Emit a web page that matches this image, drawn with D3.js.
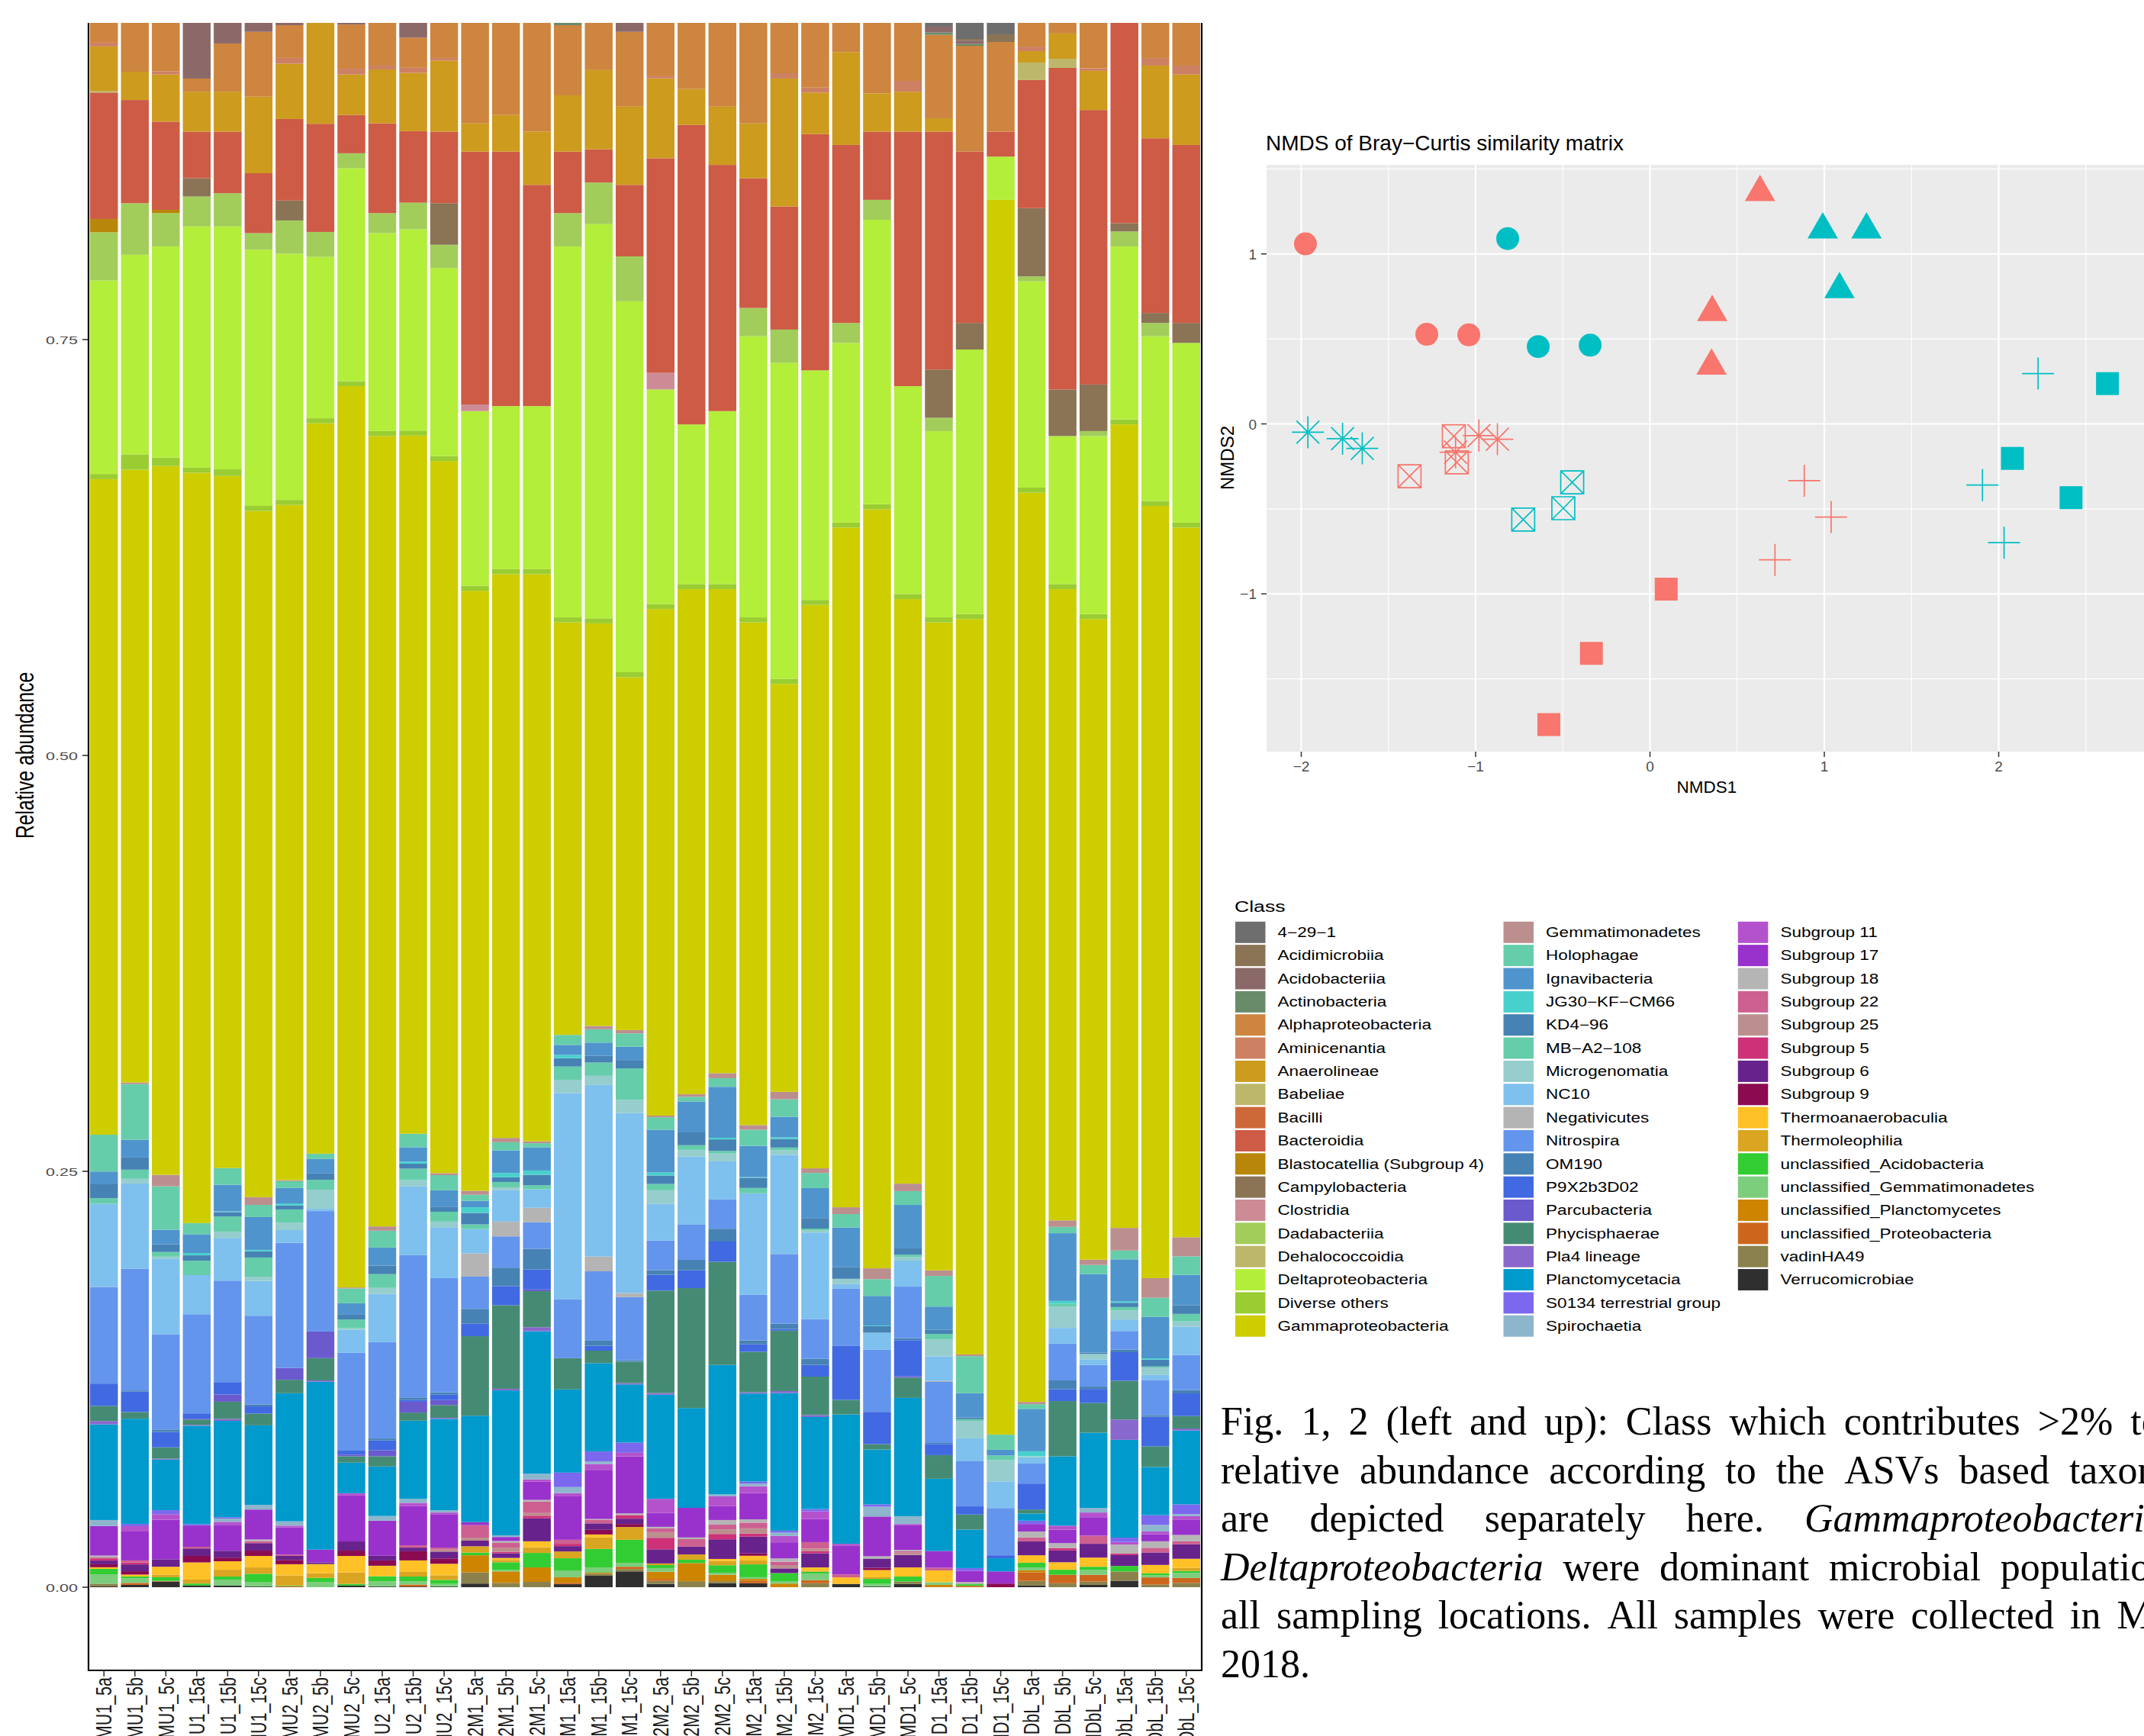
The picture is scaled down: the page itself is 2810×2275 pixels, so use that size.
<!DOCTYPE html>
<html>
<head>
<meta charset="utf-8">
<title>Bacterial classes and NMDS ordination</title>
<script src="https://cdn.jsdelivr.net/npm/d3@7"></script>
<style>
  html, body { margin: 0; padding: 0; background: #ffffff; }
  svg { display: block; }
</style>
</head>
<body>
<svg id="fig" width="2810" height="2275" xmlns="http://www.w3.org/2000/svg"></svg>
<script>
// ---------- samples on the x axis of the stacked bars ----------
const samples = [
  "MU1_5a","MU1_5b","MU1_5c","MU1_15a","MU1_15b","MU1_15c",
  "MU2_5a","MU2_5b","MU2_5c","MU2_15a","MU2_15b","MU2_15c",
  "S2M1_5a","S2M1_5b","S2M1_5c","S2M1_15a","S2M1_15b","S2M1_15c",
  "S2M2_5a","S2M2_5b","S2M2_5c","S2M2_15a","S2M2_15b","S2M2_15c",
  "MD1_5a","MD1_5b","MD1_5c","MD1_15a","MD1_15b","MD1_15c",
  "MDbL_5a","MDbL_5b","MDbL_5c","MDbL_15a","MDbL_15b","MDbL_15c"
];

// ---------- classes in legend order (first one sits on top of each bar) ----------
const classNames = [
  "4\u221229\u22121","Acidimicrobiia","Acidobacteriia","Actinobacteria","Alphaproteobacteria",
  "Aminicenantia","Anaerolineae","Babeliae","Bacilli","Bacteroidia",
  "Blastocatellia (Subgroup 4)","Campylobacteria","Clostridia","Dadabacteriia","Dehalococcoidia",
  "Deltaproteobacteria","Diverse others","Gammaproteobacteria",
  "Gemmatimonadetes","Holophagae","Ignavibacteria","JG30\u2212KF\u2212CM66","KD4\u221296",
  "MB\u2212A2\u2212108","Microgenomatia","NC10","Negativicutes","Nitrospira","OM190",
  "P9X2b3D02","Parcubacteria","Phycisphaerae","Pla4 lineage","Planctomycetacia",
  "S0134 terrestrial group","Spirochaetia",
  "Subgroup 11","Subgroup 17","Subgroup 18","Subgroup 22","Subgroup 25","Subgroup 5",
  "Subgroup 6","Subgroup 9","Thermoanaerobaculia","Thermoleophilia",
  "unclassified_Acidobacteria","unclassified_Gemmatimonadetes","unclassified_Planctomycetes",
  "unclassified_Proteobacteria","vadinHA49","Verrucomicrobiae"
];
const classColors = [
  "#6e6e6e","#8b7355","#8b6969","#698b69","#cd853f",
  "#cd8162","#cd9b1d","#bdb76b","#cd6839","#cd5b45",
  "#b8860b","#8b7355","#cd8c95","#a2cd5a","#bdb76b",
  "#b3ee3a","#9acd32","#cdcd00",
  "#bc8f8f","#66cdaa","#4f94cd","#48d1cc","#4682b4",
  "#66cdaa","#96cdcd","#7ec0ee","#b4b4b4","#6495ed","#4682b4",
  "#4169e1","#6a5acd","#458b74","#8968cd","#009acd",
  "#7b68ee","#8db6cd",
  "#b452cd","#9932cc","#b5b5b5","#cd6090","#bc8f8f","#cd3278",
  "#68228b","#8b0a50","#ffc125","#daa520",
  "#32cd32","#7ccd7c","#cd8500",
  "#cd661d","#8b814c","#2f2f2f"
];

// ---------- relative abundance (percent), one value per sample ----------
const c4_29_1            = [0,0,0,0,0,0, 0,0,0,0,0,0, 0,0,0,0,0,0, 0,0,0,0,0,0, 0,0,0,6.19,6.93,6.65, 0,0,0,0,0,0];
const acidimicrobiia     = [0,0,0,0,0,0, 0,0,0,0,0,0, 0,0,0,0,0,0, 0,0,0,0,0,0, 0,0,0,0,0.1,0.46, 0,0,0,0,0,0];
const acidobacteriia     = [0,0,0,9.31,7.2,6.5, 6.06,0,6.06,0,6.88,0, 0,0,0,0,0,6.5, 0,0,0,0,0,0, 0,0,0,0.35,0.19,0, 0,0,0,0,0,0];
const actinobacteria     = [0,0,0,0,0,0, 0,0,0,0,0,0, 0,0,0,6.1,0,0, 0,0,0,0,0,0, 0,0,0,0.14,0.12,0, 0,0,0,0,0,0];
const alphaproteobacteria= [7.2,8.9,8.87,0.79,2.9,3.9, 1.97,0,2.66,8.53,1.81,8.07, 12.0,11.5,12.5,4.22,8.94,4.5, 9.17,9.54,11.0,12.0,8.99,9.7, 7.72,10.2,9.45,5.02,6.36,5.39, 7.39,6.6,8.69,0,8.07,8.53];
const aminicenantia      = [0.23,0,0.2,0,0,0, 0.35,0,0.35,0.23,0.31,0.16, 0,0,0,0,0,0, 0.13,0,0,0,0.32,0.3, 0,0,0.65,0,0,0, 0.27,0,0.16,0,0.46,0.54];
const anaerolineae       = [2.67,1.7,2.83,2.4,2.4,4.6, 3.32,12.0,2.43,3.24,3.5,4.27, 1.7,2.2,3.2,3.38,4.76,4.7, 4.8,2.16,3.5,3.3,7.69,2.5, 5.58,2.3,2.4,0.8,0,0, 0.69,1.52,2.35,0,4.37,4.23];
const babeliae           = [0.1,0,0,0,0,0, 0,0,0,0,0,0, 0,0,0,0,0,0, 0,0,0,0,0,0, 0,0,0,0,0,0, 1.05,0.55,0,0,0,0];
const bacilli            = [0,0,0,0,0,0, 0,0,0,0,0,0, 0,0,0,0,0,0, 0,0,0,0,0,0, 0,0,0,0,0,0, 0,0,0,0,0,0];
const bacteroidia        = [7.6,6.2,5.3,2.8,3.7,3.6, 4.9,6.5,2.3,5.4,4.3,4.3, 15.2,15.3,13.3,3.7,2.0,4.3, 12.9,18.0,14.8,7.8,7.4,14.2, 10.7,4.1,15.3,14.3,10.3,1.5, 7.7,19.33,16.5,18.0,10.5,10.7];
const blastocatellia     = [0.8,0,0.2,0,0,0, 0,0,0,0,0,0, 0,0,0,0,0,0, 0,0,0,0,0,0, 0,0,0,0,0,0, 0,0,0,0,0,0];
const campylobacteria    = [0,0,0,1.1,0,0, 1.2,0,0,0,0,2.5, 0,0,0,0,0,0, 0,0,0,0,0,0, 0,0,0,2.9,1.6,0, 4.1,2.8,2.8,0.5,0.6,1.2];
const clostridia         = [0,0,0,0,0,0, 0,0,0,0,0,0, 0.4,0,0,0,0,0, 1.0,0,0,0,0,0, 0,0,0,0,0,0, 0,0,0,0,0,0];
const dadabacteriia      = [2.9,3.1,2.0,1.8,2.0,1.0, 2.0,1.5,0.9,1.2,1.6,1.4, 0,0,0,2.0,2.5,2.7, 0,0,0,1.7,2.0,0, 1.2,1.2,0,0.8,0,0, 0.3,0,0.3,0.9,0.8,0];
const dehalococcoidia    = [0,0,0,0,0,0, 0,0,0,0,0,0, 0,0,0,0,0,0, 0,0,0,0,0,0, 0,0,0,0,0,0, 0,0,0,0,0,0];
const deltaproteobacteria= [11.63,12.0,12.7,14.5,14.6,15.4, 14.8,9.7,12.8,11.9,12.1,11.3, 10.5,9.8,9.8,22.3,23.7,22.3, 12.9,9.6,10.4,16.9,19.0,13.8, 10.8,17.1,12.5,11.2,15.9,2.6, 12.4,8.9,10.7,10.4,9.9,10.8];
const diverseOthers      = [0.31,0.92,0.5,0.3,0.4,0.3, 0.3,0.3,0.3,0.3,0.3,0.3, 0.3,0.3,0.3,0.3,0.3,0.3, 0.3,0.3,0.3,0.3,0.3,0.3, 0.3,0.3,0.3,0.3,0.3,0, 0.3,0.3,0.3,0.3,0.3,0.3];
const gammaproteobacteria= [39.41,36.84,42.61,45.11,41.6,41.25, 40.59,43.91,54.18,47.51,41.97,42.81, 36.07,33.89,34.09,24.8,24.2,21.21, 30.45,30.36,29.1,30.22,24.52,33.87, 40.86,45.63,35.14,38.95,44.21,74.23, 54.66,37.95,38.51,48.3,46.42,42.66];
const gemmatimonadetes   = [0,0.1,0.69,0,0,0.47, 0.06,0,0.06,0.26,0,0.12, 0.24,0.26,0.12,0,0.2,0.2, 0.1,0.16,0.3,0.28,0.45,0.28, 0.41,0.65,0.45,0.34,0.1,0, 0.14,0.39,0.32,1.36,1.18,1.15];
const holophagae         = [2.21,3.34,2.61,0.67,1.01,0.73, 0.41,0.32,0.89,1.01,0.81,0.91, 0.36,0.49,0.24,0.6,0.8,0.8, 0.75,0.28,0.52,0.97,1.05,0.91, 0.81,1.01,0.83,1.84,2.23,0.91, 0.28,0.38,0.55,0.53,1.15,1.11];
const ignavibacteria     = [0.73,1.07,0.87,1.13,1.6,1.97, 0.93,0.87,0.69,1.09,0.87,1.01, 0.39,1.36,1.4,0.6,0.8,0.8, 2.57,1.86,3.06,1.88,1.24,1.8, 2.39,1.78,2.61,1.4,1.46,0.34, 2.55,4.07,4.72,2.53,2.49,1.84];
const jg30               = [0,0,0,0.14,0.04,0.08, 0.12,0,0,0,0.12,0, 0.34,0.26,0.26,0.2,0,0, 0.18,0,0.1,0.04,0.1,0, 0,0.04,0,0,0,0, 0.3,0.16,0,0.08,0.08,0];
const kd4_96             = [0.87,0.73,0.47,0.32,0.26,0.38, 0.24,0.38,0.28,0.51,0.3,0.28, 0.69,0.28,0.63,0.5,0.4,0.5, 0.51,0.77,0.69,0.61,0.51,0.63, 0.69,0.39,0.38,0.24,0.1,0, 0,0,0.08,0.26,0.41,0.51];
const mbA2_108           = [0.34,0.55,0.28,0.87,0.91,1.15, 0.79,0.59,0.53,0.83,0.69,0.59, 0.28,0.32,0.24,0.8,0.8,1.9, 0.38,0.28,0.16,0.32,0.16,0.12, 0,0,0.14,0.34,0.1,0.28, 0,0.18,0,0.2,0.06,0.45];
const microgenomatia     = [0,0.28,0.14,0,0.38,0.26, 0.45,1.15,0.1,0.36,0.38,0.34, 0,0.16,0,0.8,0.55,0.79, 0.81,0.41,0.47,0,0.28,0.12, 0.32,0,0.22,1.01,1.05,1.28, 0.06,1.28,0.32,0.55,0.45,0.32];
const nc10               = [5.0,5.13,4.54,2.35,2.57,2.09, 0.77,0.14,1.38,2.9,4.13,3.06, 1.46,1.9,1.11,12.38,10.31,10.82, 2.21,4.09,2.29,6.1,5.96,5.2, 0.28,1.01,1.56,1.48,1.38,1.6, 0.38,0.95,0.34,0.69,0.3,1.7];
const negativicutes      = [0,0,0,0,0,0, 0,0,0,0,0,0, 1.4,0.89,0.87,0,0.89,0.24, 0,0,0,0,0,0, 0,0,0,0.06,0,0, 0,0,0,0,0,0];
const nitrospira         = [5.81,7.31,5.71,5.96,6.1,5.33, 7.52,7.24,5.88,5.79,8.55,6.87, 1.94,1.88,1.6,3.55,4.17,3.79, 1.78,2.11,1.76,2.74,4.19,2.39, 3.44,3.75,3.1,3.67,2.71,2.84, 1.2,2.21,1.3,1.11,2.11,2.11];
const om190              = [0,0.06,0.14,0,0,0.12, 0,0,0,0.12,0.14,0.14, 0.89,1.11,1.24,0,0.3,0.1, 0.28,0.63,0.77,0.24,0.32,0.36, 0,0,0.12,0.06,0,0, 0,0.53,0.14,0.16,0.1,0.2];
const p9x2b3d02          = [1.34,1.24,0.93,0.32,0.75,0.43, 0,0,0.24,0.59,0.12,0.32, 0.75,1.15,1.2,0,0.3,0, 0.95,1.07,1.22,0.45,0.1,0.71, 3.24,1.94,2.17,0.67,0.49,0.18, 1.56,0.71,0.85,1.72,1.78,1.36];
const parcubacteria      = [0,0,0,0.05,0.43,0, 0.71,1.6,0.1,0.36,0.65,0.3, 0,0,0.1,0,0,0, 0,0,0,0,0,0, 0,0,0.08,0,0,0, 0,0,0,0,0,0];
const phycisphaerae      = [0.91,0.4,0.69,0.32,1.03,0.71, 0.81,1.34,0.38,0.61,0.49,0.77, 4.78,5.02,2.17,1.88,0.75,1.28, 6.16,7.21,6.2,2.43,3.63,2.31, 0.87,0.32,1.22,1.42,0.91,0, 0.24,3.32,1.78,2.33,1.24,0.75];
const pla4               = [0.2,0,0.05,0.05,0.12,0, 0,0.08,0,0,0,0.06, 0,0.1,0.24,0,0,0.08, 0.1,0,0,0.08,0.12,0.12, 0,0,0,0,0,0, 0,0,0,1.22,0,0.12];
const planctomycetacia   = [5.75,6.32,3.04,5.92,5.79,4.78, 7.7,10.09,1.84,2.98,4.7,5.49, 6.4,8.71,8.57,5.0,5.31,3.5, 6.26,6.0,7.78,5.29,8.27,5.53, 7.78,3.3,7.11,4.34,2.31,0.79, 0.43,4.17,4.52,5.88,2.9,4.44];
const s0134              = [0,0.14,0.24,0.08,0.08,0, 0,0,0,0,0,0, 0,0,0,0.87,0.59,0.61, 0,0,0,0.12,0.12,0.14, 0,0.14,0,0,0.16,0, 0.2,0,0,0.26,0.59,0.59];
const spirochaetia       = [0.36,0,0,0,0.2,0.28, 0.26,0,0,0.28,0.24,0.14, 0,0.1,0.34,0.36,0.16,0, 0,0,0.12,0.16,0.2,0, 0,0.59,0.47,0,0,0, 0,0,0.28,0,0.39,0.12];
const subgroup11         = [0,0.32,0.34,0,0.18,0, 0.1,0,0.14,0,0.2,0.1, 0,0,0.14,0.2,0.39,0.22, 0.85,0,0.59,0.41,0.38,0.45, 0.1,0,0.08,0,0,0, 0,0.24,0.28,0.16,0.16,0.2];
const subgroup17         = [1.78,1.74,2.37,1.28,1.56,1.8, 1.64,0.77,2.76,2.11,2.35,2.01, 0.18,0.24,1.09,2.61,2.92,3.42, 0.83,1.78,0.83,1.58,0.97,1.4, 1.74,2.39,1.48,1.01,0.67,0.73, 0.45,0.81,1.11,0,0.43,0.93];
const subgroup18         = [0.1,0,0,0,0,0.1, 0,0,0,0,0,0, 0,0.12,0.1,0,0.04,0.1, 0.1,0.1,0.28,0.2,0.2,0, 0,0.14,0.08,0,0.14,0, 0.36,0.3,0,0.53,0.39,0.38];
const subgroup22         = [0.1,0.12,0,0.1,0,0.12, 0.08,0,0,0,0.14,0.12, 0.75,0.28,0.69,0.24,0.22,0, 0.22,0.45,0.28,0.34,0.2,0.39, 0.18,0,0.08,0.16,0,0, 0.24,0,0.49,0,0.28,0.18];
const subgroup25         = [0,0,0,0,0,0, 0,0,0,0,0,0.12, 0.18,0.26,0.16,0,0,0, 0.34,0,0.28,0.32,0.2,0.16, 0,0,0.14,0,0,0, 0,0,0,0,0,0];
const subgroup5          = [0.1,0.12,0,0,0,0, 0,0,0,0,0,0, 0,0.08,0.16,0.14,0,0.22, 0.69,0,0.32,0.18,0,0.12, 0,0,0,0,0,0, 0,0.14,0,0.1,0,0];
const subgroup6          = [0.22,0.41,0.45,0.45,0.41,0.45, 0.24,0.1,0.55,0.28,0.22,0.41, 0.34,0.28,1.38,0.32,0.39,0.32, 0.85,0.47,1.18,1.01,0.28,0.85, 0,0.55,0.75,0,0,0, 0.83,0.71,0.83,0.65,0.75,0.87];
const subgroup9          = [0.18,0.2,0,0.39,0.22,0.32, 0.26,0,0.32,0.32,0.55,0.32, 0,0,0,0,0.28,0.18, 0,0,0,0.14,0,0, 0,0.14,0,0,0,0.22, 0,0,0,0,0,0];
const thermoanaerobaculia= [0.1,0.12,0.47,1.03,0.51,0.69, 0.67,0.55,0.99,0.63,0.69,0.69, 0,0.12,0.36,0,0.18,0, 0,0,0.12,0.28,0,0.2, 0.39,0.43,0.55,0.71,0,0, 0.45,0.45,0.55,0,0.51,0.55];
const thermoleophilia    = [0,0,0.16,0.24,0.41,0.38, 0.61,0.28,0.69,0,0.28,0.28, 0.38,0.14,0.34,0.41,0.69,0.77, 0.1,0.32,0.26,0.24,0,0.06, 0,0.1,0,0,0,0, 0,0,0,0,0,0.18];
const unclAcidobacteria  = [0.32,0.1,0.22,0.12,0.18,0.49, 0.04,0.24,0.1,0.3,0.28,0.24, 0.16,0.47,0.87,0.73,1.11,1.38, 0.18,0.2,0.45,0.77,0.51,0.12, 0,0.3,0.3,0,0.1,0, 0.28,0.3,0.18,0.34,0.12,0.12];
const unclGemmatimonadetes=[0.57,0.28,0,0,0.36,0.28, 0,0.32,0,0.32,0.2,0.16, 0,0.08,0,0.41,0.32,0.24, 0.22,0,0.12,0.1,0.12,0.39, 0,0.16,0,0.16,0,0, 0.18,0,0.3,0,0.12,0.3];
const unclPlanctomycetes = [0,0,0,0,0,0, 0,0,0,0,0,0, 1.03,0.69,0.87,0.34,0.06,0, 0.43,1.09,0.39,0.1,0.22,0, 0,0,0,0.14,0,0, 0.12,0,0,0,0,0];
const unclProteobacteria = [0,0.12,0.04,0,0,0, 0.06,0,0,0,0.12,0, 0,0,0,0.08,0,0.14, 0.12,0,0,0.16,0,0.18, 0,0,0,0,0.08,0, 0.51,0.51,0.41,0,0.43,0.3];
const vadinHA49          = [0.16,0,0,0,0,0, 0,0,0,0,0,0, 0.67,0.26,0.32,0,0.12,0.14, 0.18,0.36,0.12,0,0,0.24, 0,0,0.14,0,0,0, 0.28,0.24,0.2,0.55,0.16,0.26];
const verrucomicrobiae   = [0.05,0.14,0.34,0.1,0.1,0.04, 0,0,0.1,0.04,0.04,0.04, 0.22,0,0,0.18,0.69,0.95, 0.2,0,0.24,0.24,0,0, 0.2,0.04,0.2,0,0,0, 0.1,0,0.14,0.39,0,0];

// same order as classNames
const classValues = [
  c4_29_1, acidimicrobiia, acidobacteriia, actinobacteria, alphaproteobacteria,
  aminicenantia, anaerolineae, babeliae, bacilli, bacteroidia,
  blastocatellia, campylobacteria, clostridia, dadabacteriia, dehalococcoidia,
  deltaproteobacteria, diverseOthers, gammaproteobacteria,
  gemmatimonadetes, holophagae, ignavibacteria, jg30, kd4_96,
  mbA2_108, microgenomatia, nc10, negativicutes, nitrospira, om190,
  p9x2b3d02, parcubacteria, phycisphaerae, pla4, planctomycetacia,
  s0134, spirochaetia,
  subgroup11, subgroup17, subgroup18, subgroup22, subgroup25, subgroup5,
  subgroup6, subgroup9, thermoanaerobaculia, thermoleophilia,
  unclAcidobacteria, unclGemmatimonadetes, unclPlanctomycetes,
  unclProteobacteria, vadinHA49, verrucomicrobiae
];

const yTickValues = [0, 0.25, 0.5, 0.75, 1];

// ---------- NMDS ordination (Bray–Curtis) ----------
const nmdsShape = [
  "circle","circle","circle","circle","circle","circle",
  "triangle","triangle","triangle","triangle","triangle","triangle",
  "square","square","square","square","square","square",
  "plus","plus","plus","plus","plus","plus",
  "asterisk","asterisk","asterisk","asterisk","asterisk","asterisk",
  "boxcross","boxcross","boxcross","boxcross","boxcross","boxcross"
];
const nmdsGroup = [
  0,0,0,1,1,1, 0,0,0,1,1,1, 0,0,0,1,1,1, 0,0,0,1,1,1, 0,0,0,1,1,1, 0,0,0,1,1,1
];
const nmds1 = [
  -1.976,-1.280,-1.039,-0.816,-0.641,-0.343,
   0.631, 0.357, 0.353, 0.991, 1.242, 1.087,
   0.093,-0.336,-0.580, 2.624, 2.079, 2.415,
   0.885, 1.039, 0.717, 2.226, 1.907, 2.031,
  -0.981,-0.875,-1.115,-1.962,-1.763,-1.650,
  -1.125,-1.108,-1.379,-0.446,-0.497,-0.727
];
const nmds2 = [
   1.059, 0.527, 0.524, 1.090, 0.455, 0.463,
   1.362, 0.657, 0.341, 1.142, 1.142, 0.791,
  -0.972,-1.350,-1.769, 0.237,-0.203,-0.434,
  -0.334,-0.548,-0.800, 0.296,-0.360,-0.699,
  -0.069,-0.090,-0.167,-0.049,-0.087,-0.144,
  -0.072,-0.226,-0.308,-0.344,-0.496,-0.563
];
const groupColors = ["#F8766D", "#00BFC4"];
const nmdsMajor = [-2, -1, 0, 1, 2];
const nmdsMinorX = [-1.5, -0.5, 0.5, 1.5, 2.5];
const nmdsMajorY = [-1, 0, 1];
const nmdsMinorY = [-1.5, -0.5, 0.5, 1.5];

// ---------- caption ----------
const captionLines = [
  [{t: "Fig. 1, 2 (left and up): Class which contributes >2% to"}],
  [{t: "relative abundance according to the ASVs based taxonomy"}],
  [{t: "are depicted separately here."}, {t: "Gammaproteobacteria", i: true}, {t: "and"}],
  [{t: "Deltaproteobacteria", i: true}, {t: "were dominant microbial populations at"}],
  [{t: "all sampling locations. All samples were collected in May"}],
  [{t: "2018."}]
];
const captionExtraSpace = [10, 13, 40, 12.6, 8, 0];

// =====================================================================
const svg = d3.select("#fig");
const SANS = "'Liberation Sans', Arial, Helvetica, sans-serif";
const SERIF = "'Liberation Serif', 'Times New Roman', serif";

svg.append("rect").attr("width", 2810).attr("height", 2275).attr("fill", "#ffffff");

// ---------------- stacked bar chart ----------------
const barLeft = 116, barRight = 1575, barBottom = 2189, barVisibleTop = 30;
const x = d3.scaleBand().domain(samples).range([barLeft, barRight])
  .paddingInner(0.1).paddingOuter(0.05);
const y = d3.scaleLinear().domain([-0.05, 1.05]).range([barBottom, -209]);

const rows = samples.map((s, i) => {
  const r = {sample: s};
  classNames.forEach((c, k) => { r[c] = classValues[k][i] / 100; });
  return r;
});
const keysBottomUp = classNames.slice().reverse();
const colorOf = d3.scaleOrdinal().domain(classNames).range(classColors);
const series = d3.stack().keys(keysBottomUp)(rows);

svg.append("clipPath").attr("id", "barclip")
  .append("rect").attr("x", barLeft).attr("y", barVisibleTop)
  .attr("width", barRight - barLeft).attr("height", barBottom - barVisibleTop);

const barG = svg.append("g").attr("clip-path", "url(#barclip)");
barG.selectAll("g.layer").data(series).join("g")
  .attr("class", "layer")
  .attr("fill", d => colorOf(d.key))
  .selectAll("rect").data(d => d).join("rect")
  .attr("x", d => x(d.data.sample))
  .attr("width", x.bandwidth())
  .attr("y", d => y(d[1]))
  .attr("height", d => Math.max(0, y(d[0]) - y(d[1])));

// panel border (left, bottom, right)
const border = svg.append("g").attr("stroke", "#000").attr("stroke-width", 2.2).attr("fill", "none");
border.append("path").attr("d",
  `M${barLeft},${barVisibleTop}V${barBottom}H${barRight}V${barVisibleTop}`);

// y axis ticks + labels (text stretched horizontally)
yTickValues.forEach(v => {
  const yy = y(v);
  if (yy < barVisibleTop) return;
  svg.append("line").attr("x1", barLeft - 8).attr("x2", barLeft - 1)
    .attr("y1", yy).attr("y2", yy).attr("stroke", "#333").attr("stroke-width", 1.6);
  svg.append("text")
    .attr("transform", `translate(${barLeft - 14},${yy + 5.5}) scale(1.4,1)`)
    .attr("text-anchor", "end").attr("font-family", SANS).attr("font-size", 15.4)
    .attr("fill", "#4d4d4d").text(d3.format(".2f")(v));
});

svg.append("text")
  .attr("transform", "translate(44,990) scale(1.35,1) rotate(-90)")
  .attr("text-anchor", "middle").attr("font-family", SANS).attr("font-size", 24.7)
  .attr("fill", "#000").text("Relative abundance");

// x axis ticks + rotated labels
samples.forEach(s => {
  const cx = x(s) + x.bandwidth() / 2;
  svg.append("line").attr("x1", cx).attr("x2", cx).attr("y1", barBottom + 1).attr("y2", barBottom + 8)
    .attr("stroke", "#333").attr("stroke-width", 1.6);
  svg.append("text")
    .attr("transform", `translate(${cx + 10.2},${barBottom + 9}) scale(1.35,1) rotate(-90)`)
    .attr("text-anchor", "end").attr("font-family", SANS).attr("font-size", 21.5)
    .attr("fill", "#1a1a1a").text(s);
});

// ---------------- NMDS panel ----------------
const nx = d3.scaleLinear().domain([-2.199, 2.851]).range([1660, 2814]);
const ny = d3.scaleLinear().domain([-1.928, 1.524]).range([985, 216]);

svg.append("rect").attr("x", nx.range()[0]).attr("y", ny.range()[1])
  .attr("width", nx.range()[1] - nx.range()[0]).attr("height", ny.range()[0] - ny.range()[1])
  .attr("fill", "#ebebeb");
const grid = svg.append("g").attr("stroke", "#ffffff");
nmdsMinorX.forEach(v => grid.append("line").attr("x1", nx(v)).attr("x2", nx(v))
  .attr("y1", ny.range()[1]).attr("y2", ny.range()[0]).attr("stroke-width", 1.1));
nmdsMinorY.forEach(v => grid.append("line").attr("y1", ny(v)).attr("y2", ny(v))
  .attr("x1", nx.range()[0]).attr("x2", nx.range()[1]).attr("stroke-width", 1.1));
nmdsMajor.forEach(v => grid.append("line").attr("x1", nx(v)).attr("x2", nx(v))
  .attr("y1", ny.range()[1]).attr("y2", ny.range()[0]).attr("stroke-width", 2.2));
nmdsMajorY.forEach(v => grid.append("line").attr("y1", ny(v)).attr("y2", ny(v))
  .attr("x1", nx.range()[0]).attr("x2", nx.range()[1]).attr("stroke-width", 2.2));

// axis ticks & labels
const fmtMinus = v => (v < 0 ? "\u2212" + Math.abs(v) : String(v));
nmdsMajor.forEach(v => {
  svg.append("line").attr("x1", nx(v)).attr("x2", nx(v)).attr("y1", 985).attr("y2", 992)
    .attr("stroke", "#333").attr("stroke-width", 1.5);
  svg.append("text").attr("x", nx(v)).attr("y", 1011).attr("text-anchor", "middle")
    .attr("font-family", SANS).attr("font-size", 19).attr("fill", "#4d4d4d").text(fmtMinus(v));
});
nmdsMajorY.forEach(v => {
  svg.append("line").attr("x1", 1653).attr("x2", 1660).attr("y1", ny(v)).attr("y2", ny(v))
    .attr("stroke", "#333").attr("stroke-width", 1.5);
  svg.append("text").attr("x", 1647).attr("y", ny(v) + 7).attr("text-anchor", "end")
    .attr("font-family", SANS).attr("font-size", 19).attr("fill", "#4d4d4d").text(fmtMinus(v));
});
svg.append("text").attr("x", 2237).attr("y", 1039).attr("text-anchor", "middle")
  .attr("font-family", SANS).attr("font-size", 22.5).attr("fill", "#000").text("NMDS1");
svg.append("text").attr("transform", "translate(1617,600) rotate(-90)").attr("text-anchor", "middle")
  .attr("font-family", SANS).attr("font-size", 24).attr("fill", "#000").text("NMDS2");
svg.append("text").attr("x", 1659).attr("y", 197)
  .attr("font-family", SANS).attr("font-size", 28).attr("fill", "#000")
  .text("NMDS of Bray\u2212Curtis similarity matrix");

// point symbols
function drawSymbol(g, shape, px, py, col) {
  if (shape === "circle") {
    g.append("circle").attr("cx", px).attr("cy", py).attr("r", 15).attr("fill", col);
  } else if (shape === "triangle") {
    const r = 23, h = r * Math.sqrt(3) / 2;
    g.append("path").attr("d", `M${px},${py - r}L${px + h},${py + r / 2}L${px - h},${py + r / 2}Z`).attr("fill", col);
  } else if (shape === "square") {
    g.append("rect").attr("x", px - 15).attr("y", py - 15).attr("width", 30).attr("height", 30).attr("fill", col);
  } else if (shape === "plus") {
    g.append("path").attr("d", `M${px - 21},${py}H${px + 21}M${px},${py - 21}V${py + 21}`)
      .attr("stroke", col).attr("stroke-width", 1.7).attr("fill", "none");
  } else if (shape === "asterisk") {
    const d = 15;
    g.append("path").attr("d",
      `M${px - 21},${py}H${px + 21}M${px},${py - 21}V${py + 21}` +
      `M${px - d},${py - d}L${px + d},${py + d}M${px - d},${py + d}L${px + d},${py - d}`)
      .attr("stroke", col).attr("stroke-width", 1.7).attr("fill", "none");
  } else if (shape === "boxcross") {
    g.append("path").attr("d",
      `M${px - 15},${py - 15}H${px + 15}V${py + 15}H${px - 15}Z` +
      `M${px - 15},${py - 15}L${px + 15},${py + 15}M${px - 15},${py + 15}L${px + 15},${py - 15}`)
      .attr("stroke", col).attr("stroke-width", 1.7).attr("fill", "none");
  }
}
const ptG = svg.append("g");
nmds1.forEach((v, i) => drawSymbol(ptG, nmdsShape[i], nx(v), ny(nmds2[i]), groupColors[nmdsGroup[i]]));

// ---------------- legend ----------------
const legCols = [1619, 1970.5, 2277.8];
const legRowsPerCol = [18, 18, 16];
const legTop = 1207.8, legPitch = 30.35;
svg.append("text").attr("transform", "translate(1618,1195) scale(1.35,1)")
  .attr("font-family", SANS).attr("font-size", 19.7).attr("fill", "#000").text("Class");
let idx = 0;
legRowsPerCol.forEach((n, c) => {
  for (let r = 0; r < n; r++, idx++) {
    const yy = legTop + r * legPitch;
    svg.append("rect").attr("x", legCols[c]).attr("y", yy).attr("width", 39.5).attr("height", 28)
      .attr("fill", classColors[idx]);
    svg.append("text").attr("transform", `translate(${legCols[c] + 55.6},${yy + 20.2}) scale(1.28,1)`)
      .attr("font-family", SANS).attr("font-size", 17.6).attr("fill", "#000").text(classNames[idx]);
  }
});

// ---------------- caption (justified word by word) ----------------
const capG = svg.append("g").attr("font-family", SERIF).attr("font-size", 52).attr("fill", "#000");
const spaceW = 13;
captionLines.forEach((line, li) => {
  const yb = 1880 + li * 63.5;
  let xpos = 1600;
  const words = [];
  line.forEach(seg => seg.t.split(" ").filter(w => w.length).forEach(w => words.push({w, i: !!seg.i})));
  words.forEach(wd => {
    const t = capG.append("text").attr("x", xpos).attr("y", yb)
      .attr("font-style", wd.i ? "italic" : "normal").text(wd.w);
    xpos += t.node().getComputedTextLength() + spaceW + captionExtraSpace[li];
  });
});
</script>
</body>
</html>
